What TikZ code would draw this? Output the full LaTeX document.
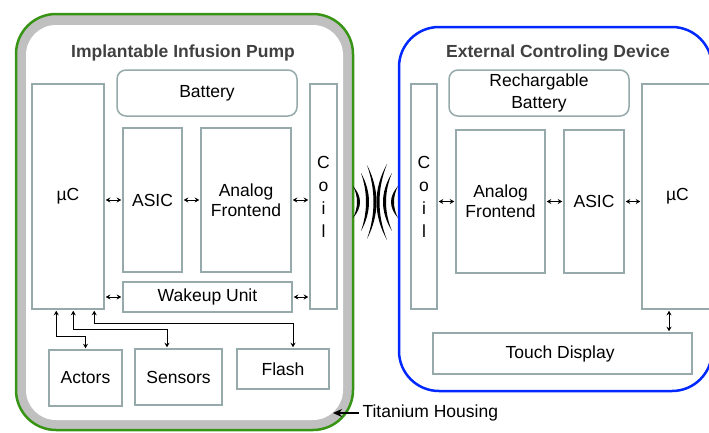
\documentclass[tikz,border=0pt]{standalone}
\usepackage{fontspec}
\setmainfont{Liberation Sans}
\usetikzlibrary{arrows.meta}
\definecolor{boxline}{RGB}{150,170,172}
\definecolor{housing}{RGB}{56,148,20}
\definecolor{housegray}{RGB}{192,192,192}
\definecolor{devline}{RGB}{0,40,255}
\definecolor{titletext}{RGB}{64,64,64}
\tikzset{
  box/.style={draw=boxline, line width=1.5pt, fill=white, inner sep=1pt, align=center, font=\fontsize{17.5}{20}\selectfont},
  bat/.style={box, rounded corners=9pt},
  biarrow/.style={{Stealth[length=4.5pt,width=5pt]}-{Stealth[length=4.5pt,width=5pt]}, line width=0.9pt, shorten <=1pt, shorten >=1pt}
}
\begin{document}
\begin{tikzpicture}[x=1pt, y=-1pt,
  devtitle/.style={font=\fontsize{17.5}{20}\selectfont\bfseries, text=titletext}]
   		\useasboundingbox (0,0) rectangle (709,432);
   		\clip (0,0) rectangle (709,432);
   		
   		\draw[draw=housing, line width=2.5pt, fill=housegray, rounded corners=40pt] (16,14) rectangle (353,430);
   		\fill[white, rounded corners=30pt] (26,25) rectangle (343,420);
   		\draw[devline, line width=2.5pt, rounded corners=40pt] (399,27) rectangle (712,391);
   		
   		\node[devtitle] (ltitle) at (183,53) {Implantable Infusion Pump};
   		\node[devtitle] (rtitle) at (558,53) {External Controling Device};
   		
   		\foreach \name/\x/\y/\w/\h/\txt in {
   			lmc/68/196.5/72/225/µC,
   			lasic/152.5/200/59/144/ASIC,
   			laf/246/200/90/144/Analog\\Frontend,
   			lwake/207.5/297/169/30/Wakeup Unit,
   			actors/85.5/378/73/56/Actors,
   			sensors/178.5/377/87/56/Sensors,
   			flash/283/369/92/40/Flash,
   			raf/500.5/201.5/89/143/Analog\\Frontend,
   			rasic/594/201.5/60/143/ASIC,
   			rmc/677.5/196.5/71/225/µC,
   			touch/562.5/353.5/259/41/Touch Display
   		}{
   			\node[box, minimum width=\w pt, minimum height=\h pt] (\name) at (\x,\y) {\txt};
   		}
   		\node[box, minimum width=27pt, minimum height=225pt, font=\fontsize{17.5}{23}\selectfont] (lcoil) at (323.5,196.5) {C\\o\\i\\l};
   		\node[box, minimum width=26pt, minimum height=225pt, font=\fontsize{17.5}{23}\selectfont] (rcoil) at (424,196.5) {C\\o\\i\\l};
   		\node[bat, minimum width=180pt, minimum height=46pt] (lbat) at (207,93) {Battery};
   		\node[bat, minimum width=180pt, minimum height=46pt, font=\fontsize{17.5}{22}\selectfont] (rbat) at (539,93) {Rechargable\\Battery};
   		
   		\foreach \a/\b in {lasic/lmc, laf/lasic, lwake/lmc}{
   			\draw[biarrow] (\a.west) -- (\a.west -| \b.east);
   		}
   		\foreach \a/\b in {laf/lcoil, lwake/lcoil, raf/rasic, rasic/rmc}{
   			\draw[biarrow] (\a.east) -- (\a.east -| \b.west);
   		}
   		\draw[biarrow] (raf.west) -- (raf.west -| rcoil.east);
   		\draw[biarrow] ([xshift=25pt]lmc.south west) -- ++(0,27) -| (actors.north);
   		\draw[biarrow] ([xshift=42pt]lmc.south west) -- ++(0,20) -| ([xshift=-11.5pt]sensors.north);
   		\draw[biarrow] ([xshift=63pt]lmc.south west) -- ++(0,14) -| ([xshift=10pt]flash.north);
   		\draw[biarrow] ([xshift=-8.5pt]rmc.south) -- ([xshift=106.5pt]touch.north);
   		
   		\foreach \ex/\px/\h in {353/358.5/16, 361/367.5/29, 367/375/37, 387/378/38, 392/384.5/29, 398/392.5/16}{
   			\fill (\ex,202-\h) .. controls ({(4*(\px+1.5)-\ex)/3},{202-\h/3}) and ({(4*(\px+1.5)-\ex)/3},{202+\h/3}) .. (\ex,202+\h)
   				.. controls ({(4*(\px-1.5)-\ex)/3},{202+\h/3}) and ({(4*(\px-1.5)-\ex)/3},{202-\h/3}) .. cycle;
   		}
   		
   		\node[anchor=west, font=\fontsize{17.5}{20}\selectfont] (tilabel) at (359,413) {Titanium Housing};
   		\coordinate (tihouse) at (333,413);
   		\draw[-{Stealth[length=9pt,width=8pt]}, line width=1.2pt] (tilabel.west) -- (tihouse);
   	\end{tikzpicture}
\end{document}
